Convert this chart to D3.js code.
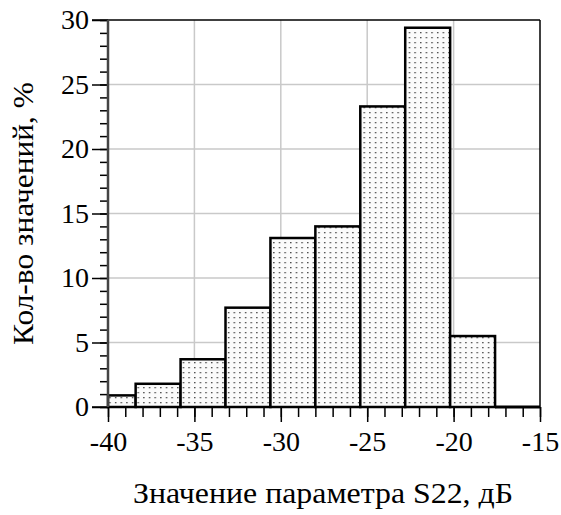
<!DOCTYPE html>
<html>
<head>
<meta charset="utf-8">
<script src="https://cdn.jsdelivr.net/npm/d3@7"></script>
<style>
  html, body { margin: 0; padding: 0; background: #fff; }
  svg { display: block; }
</style>
</head>
<body>
<svg id="chart" width="561" height="515" font-family="Liberation Serif, serif"></svg>
<script>
// Histogram bin edges (dB) and share of values in each bin (%)
const binEdges = [-41, -38.4, -35.8, -33.2, -30.6, -28, -25.4, -22.8, -20.2, -17.6, -15];
const binShares = [0.9, 1.8, 3.7, 7.7, 13.1, 14.0, 23.3, 29.4, 5.5, 0];
const xTicks = [-40, -35, -30, -25, -20, -15];
const yTicks = [0, 5, 10, 15, 20, 25, 30];
const xTitle = "Значение параметра S22, дБ";
const yTitle = "Кол-во значений, %";

const FONT = "Liberation Serif, serif";
const svg = d3.select("#chart");
const margin = { left: 108, right: 21, top: 20, bottom: 108 };
const W = 561, H = 515;

const x = d3.scaleLinear().domain([-40, -15]).range([margin.left, W - margin.right]);
const y = d3.scaleLinear().domain([0, 30]).range([H - margin.bottom, margin.top]);

const [x0, x1] = x.range();
const [y0, y1] = y.range();

// Dotted fill pattern for the bars
const defs = svg.append("defs");
const pat = defs.append("pattern")
  .attr("id", "dots")
  .attr("patternUnits", "userSpaceOnUse")
  .attr("width", 5.65).attr("height", 5);
pat.append("rect").attr("width", 5.65).attr("height", 5).attr("fill", "#fbfbfb");
pat.append("rect").attr("x", 2).attr("y", 2).attr("width", 1.3).attr("height", 1.3).attr("fill", "#333");

// Grid lines at major ticks
const grid = svg.append("g").attr("stroke", "#c9c9c9").attr("stroke-width", 1.5);
grid.selectAll("line.gx").data(xTicks.slice(1, -1)).join("line")
  .attr("x1", d => x(d)).attr("x2", d => x(d)).attr("y1", y1).attr("y2", y0);
grid.selectAll("line.gy").data(yTicks.slice(1, -1)).join("line")
  .attr("y1", d => y(d)).attr("y2", d => y(d)).attr("x1", x0).attr("x2", x1);

// Bars (the first bin is cut at the left edge of the axis)
const bins = binShares.map((v, i) => ({
  lo: Math.max(binEdges[i], x.domain()[0]),
  hi: binEdges[i + 1],
  v
}));
svg.append("g").selectAll("rect").data(bins.filter(b => b.v > 0)).join("rect")
  .attr("x", d => x(d.lo))
  .attr("width", d => x(d.hi) - x(d.lo))
  .attr("y", d => y(d.v))
  .attr("height", d => y(0) - y(d.v))
  .attr("fill", "url(#dots)")
  .attr("stroke", "#000")
  .attr("stroke-width", 2.5);

// Frame: top and right borders
svg.append("line").attr("x1", x0 - 16).attr("x2", x1).attr("y1", y1).attr("y2", y1)
  .attr("stroke", "#000").attr("stroke-width", 1.5);
svg.append("line").attr("x1", x1).attr("x2", x1).attr("y1", y1).attr("y2", y0)
  .attr("stroke", "#000").attr("stroke-width", 1.5);

// Empty bins drawn as a thick baseline segment
svg.append("g").selectAll("line").data(bins.filter(b => b.v === 0)).join("line")
  .attr("x1", d => x(d.lo)).attr("x2", d => x(d.hi))
  .attr("y1", y(0)).attr("y2", y(0))
  .attr("stroke", "#000").attr("stroke-width", 3);

// X axis with minor ticks every 1 dB
const xAxis = svg.append("g").attr("transform", `translate(0,${y0})`);
xAxis.call(d3.axisBottom(x).tickValues(d3.range(-40, -14, 1)).tickSize(10).tickFormat(""));
xAxis.select(".domain").remove();
xAxis.selectAll(".tick line").attr("stroke", "#000").attr("stroke-width", 1.5);
const xMajor = svg.append("g").attr("transform", `translate(0,${y0})`)
  .call(d3.axisBottom(x).tickValues(xTicks).tickSize(15).tickPadding(9).tickFormat(d3.format("d")));
xMajor.attr("font-family", FONT);
xMajor.select(".domain").remove();
xMajor.selectAll(".tick line").attr("stroke", "#000").attr("stroke-width", 1.5);
xMajor.selectAll(".tick text").attr("font-size", 28).attr("dy", "0.72em").attr("fill", "#000")
  .text(d => d < 0 ? "-" + Math.abs(d) : d);
svg.append("line").attr("x1", x0 - 16).attr("x2", x1).attr("y1", y0).attr("y2", y0)
  .attr("stroke", "#000").attr("stroke-width", 1.5);

// Y axis with minor ticks every 1 %
const yAxis = svg.append("g").attr("transform", `translate(${x0},0)`);
yAxis.call(d3.axisLeft(y).tickValues(d3.range(0, 31, 1)).tickSize(8).tickFormat(""));
yAxis.select(".domain").remove();
yAxis.selectAll(".tick line").attr("stroke", "#000").attr("stroke-width", 1.5);
const yMajor = svg.append("g").attr("transform", `translate(${x0},0)`)
  .call(d3.axisLeft(y).tickValues(yTicks).tickSize(16).tickPadding(3).tickFormat(d3.format("d")));
yMajor.attr("font-family", FONT);
yMajor.select(".domain").remove();
yMajor.selectAll(".tick line").attr("stroke", "#000").attr("stroke-width", 1.5);
yMajor.selectAll(".tick text").attr("font-size", 28).attr("fill", "#000");
svg.append("line").attr("x1", x0).attr("x2", x0).attr("y1", y1).attr("y2", y0)
  .attr("stroke", "#444").attr("stroke-width", 2.5);

// Axis titles
svg.append("text")
  .attr("x", (133 + 513) / 2).attr("y", 503)
  .attr("text-anchor", "middle").attr("font-size", 29)
  .attr("font-family", FONT)
  .attr("textLength", 380).attr("lengthAdjust", "spacingAndGlyphs")
  .text(xTitle);

svg.append("text")
  .attr("transform", `translate(33,${(82 + 345) / 2}) rotate(-90)`)
  .attr("text-anchor", "middle").attr("font-size", 30)
  .attr("font-family", FONT)
  .attr("textLength", 263).attr("lengthAdjust", "spacingAndGlyphs")
  .text(yTitle);
</script>
</body>
</html>
